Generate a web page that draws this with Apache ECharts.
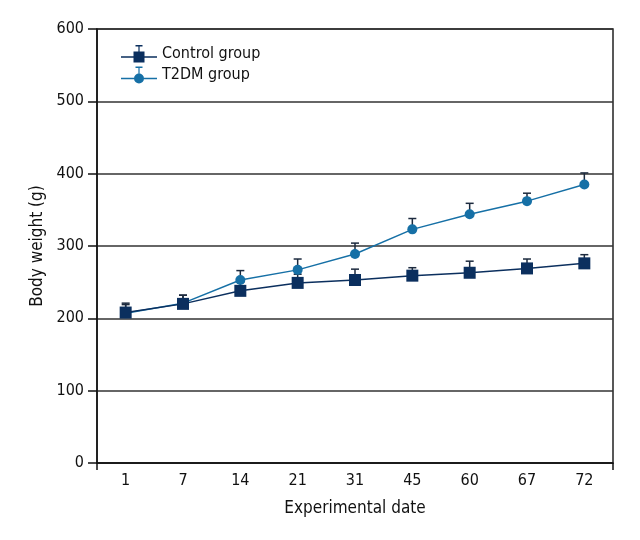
<!DOCTYPE html>
<html>
<head>
<meta charset="utf-8">
<script src="https://cdn.jsdelivr.net/npm/echarts@6/dist/echarts.min.js"></script>
<style>html,body{margin:0;padding:0;background:#fff}#c{width:640px;height:540px}</style>
</head>
<body>
<div id="c"></div>
<script>
const categories = ['1', '7', '14', '21', '31', '45', '60', '67', '72'];
const controlMean = [208, 220, 238, 249, 253, 259, 263, 269, 276];
const controlErr  = [13, 12, 12, 12, 15, 11, 16, 13, 12];
const t2dmMean    = [207, 221, 253, 267, 289, 323, 344, 362, 385];
const t2dmErr     = [12, 11, 13, 15, 15, 15, 15, 11, 16];
const yTicks = [0, 100, 200, 300, 400, 500, 600];

const FONT = '"Liberation Sans Narrow", "DejaVu Sans Condensed", "Roboto", sans-serif';
const C_CTRL = '#0b2f5e';
const C_T2DM = '#1670a6';
const C_ERR = '#1c2a3e';

const iconLine = 'M0 11.3 H36 V12.7 H0 Z ';
const iconCap = 'M17.4 1.5 H18.6 V7 H17.4 Z M14.5 0 H21.5 V1.5 H14.5 Z ';
const iconSquare = iconLine + iconCap + 'M12.5 6.5 H23.5 V17.5 H12.5 Z';
const iconCircle = iconLine + iconCap + 'M13 12 A5 5 0 1 1 23 12 A5 5 0 1 1 13 12 Z';

function errData(means, errs) {
  return means.map((m, i) => [i, m, errs[i]]);
}
function errRender(color) {
  return function (params, api) {
    const x = api.value(0), v = api.value(1), e = api.value(2);
    const p0 = api.coord([x, v]);
    const p1 = api.coord([x, v + e]);
    return {
      type: 'group',
      children: [
        { type: 'line', shape: { x1: p0[0], y1: p0[1], x2: p1[0], y2: p1[1] }, style: { stroke: color, lineWidth: 1.5 } },
        { type: 'line', shape: { x1: p1[0] - 4, y1: p1[1], x2: p1[0] + 4, y2: p1[1] }, style: { stroke: color, lineWidth: 1.5 } }
      ]
    };
  };
}

const chart = echarts.init(document.getElementById('c'), null, { renderer: 'canvas' });
chart.setOption({
  animation: false,
  backgroundColor: '#fff',
  grid: { left: 97, right: 27, top: 29, bottom: 77, show: true, borderColor: '#222', borderWidth: 1.5 },
  legend: {
    orient: 'vertical',
    left: 116, top: 40,
    itemWidth: 36, itemHeight: 17.5,
    itemGap: 4,
    textStyle: { fontFamily: FONT, fontSize: 16, color: '#111' },
    data: [
      { name: 'Control group', icon: 'path://' + iconSquare },
      { name: 'T2DM group', icon: 'path://' + iconCircle }
    ]
  },
  xAxis: {
    type: 'category',
    data: categories,
    boundaryGap: true,
    axisLine: { lineStyle: { color: '#111', width: 1.5 } },
    axisTick: {
      show: true, length: 7, lineStyle: { color: '#111', width: 1.5 },
      interval: function (index) { return index === 0; }
    },
    axisLabel: { fontFamily: FONT, fontSize: 16, color: '#111', margin: 10 },
    name: 'Experimental date',
    nameLocation: 'middle',
    nameGap: 37,
    nameTextStyle: { fontFamily: FONT, fontSize: 17, color: '#111' }
  },
  yAxis: {
    type: 'value',
    min: yTicks[0], max: yTicks[yTicks.length - 1], interval: 100,
    axisLine: { show: true, lineStyle: { color: '#111', width: 1.5 } },
    axisTick: { show: true, length: 9, lineStyle: { color: '#111', width: 1.5 } },
    axisLabel: { fontFamily: FONT, fontSize: 16, color: '#111', margin: 13 },
    splitLine: { show: true, lineStyle: { color: '#333', width: 1.5 } },
    name: 'Body weight (g)',
    nameLocation: 'middle',
    nameGap: 50,
    nameTextStyle: { fontFamily: FONT, fontSize: 17, color: '#111' }
  },
  series: [
    {
      type: 'custom', name: 'ctrlErr', renderItem: errRender(C_ERR),
      data: errData(controlMean, controlErr), encode: { x: 0, y: 1 }, z: 1, silent: true
    },
    {
      type: 'custom', name: 't2dmErr', renderItem: errRender(C_ERR),
      data: errData(t2dmMean, t2dmErr), encode: { x: 0, y: 1 }, z: 1, silent: true
    },
    {
      name: 'T2DM group', type: 'line', data: t2dmMean,
      symbol: 'circle', symbolSize: 10,
      itemStyle: { color: C_T2DM }, lineStyle: { color: C_T2DM, width: 1.5 }, z: 3
    },
    {
      name: 'Control group', type: 'line', data: controlMean,
      symbol: 'rect', symbolSize: 12,
      itemStyle: { color: C_CTRL }, lineStyle: { color: C_CTRL, width: 1.5 }, z: 4
    }
  ]
});
</script>
</body>
</html>
